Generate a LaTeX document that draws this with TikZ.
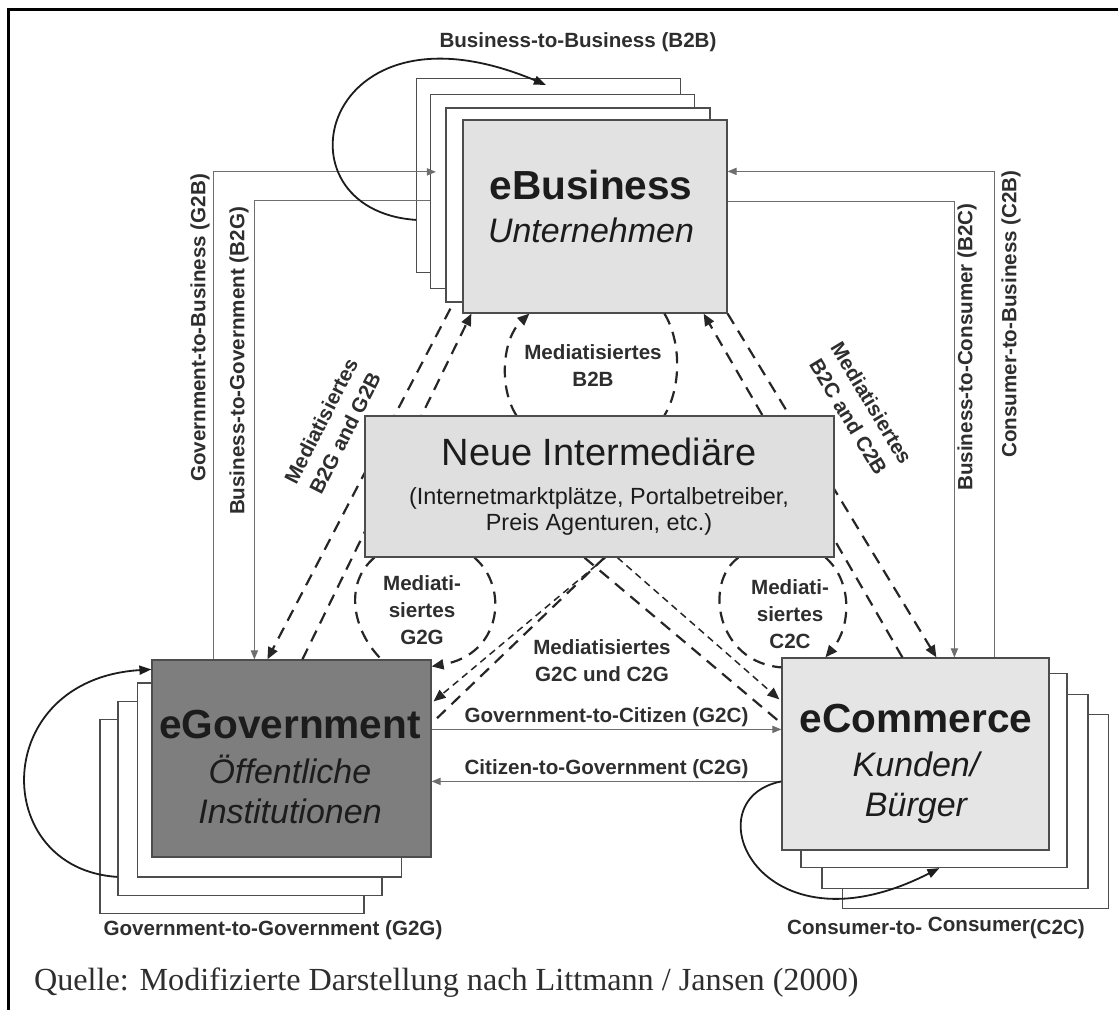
\documentclass[tikz,border=0pt]{standalone}
\usepackage{fontspec}
\setmainfont{Liberation Serif}
\setsansfont{Liberation Sans}
\usepackage{xcolor}
\definecolor{bizfill}{HTML}{E2E2E2}
\definecolor{comfill}{HTML}{E5E5E5}
\definecolor{neuefill}{HTML}{DFDFDF}
\definecolor{govfill}{HTML}{7E7E7E}
\definecolor{boxedge}{HTML}{4D4D4D}
\definecolor{flowgray}{HTML}{6E6E6E}
\definecolor{medgray}{HTML}{262626}
\definecolor{lbltext}{HTML}{2E2E2E}
\definecolor{ink}{HTML}{1C1C1C}
\usetikzlibrary{arrows.meta,calc}

\begin{document}
\begin{tikzpicture}[x=0.5pt,y=-0.5pt,
  sectorbox/.style={draw=boxedge, line width=0.6pt, inner sep=0pt},
  stackbox/.style={sectorbox, fill=white},
  boxtext/.style={align=center, inner sep=0pt, text=ink},
  lbl/.style={font=\sffamily\bfseries\fontsize{10.3}{13.5}\selectfont,
              text=lbltext, inner sep=1pt},
  vlbl/.style={lbl, rotate=90},
  medlbl/.style={lbl, align=center},
  relflow/.style={draw=flowgray, line width=0.55pt,
                  -{Triangle[length=4.5pt,width=3.6pt]}},
  medline/.style={draw=medgray, line width=1.1pt, dash pattern=on 6pt off 4pt},
  medfine/.style={draw=medgray, line width=0.75pt, dash pattern=on 3.5pt off 2.5pt},
  medtip/.style={-{Triangle[length=6pt,width=5pt]}},
  selfloop/.style={draw=ink, line width=0.9pt,
                   -{Triangle[length=6pt,width=4.5pt]}}
]
\useasboundingbox (0,0) rectangle (1118,1010);
\draw[line width=1.5pt] (8,1010) -- (8,10) -- (1118,10);

%% stacks
\coordinate (bizc) at (595,216.5);
\foreach \n/\dx/\dy in {3/-46.5/-41,2/-32.5/-25,1/-17/-11.5}
  \node[stackbox, minimum width=132pt, minimum height=97pt]
    (biz\n) at ([shift={(\dx,\dy)}]bizc) {};
\node[sectorbox, fill=bizfill, minimum width=132pt, minimum height=96.5pt]
  (biz) at (bizc) {};

\coordinate (govc) at (291.5,758.5);
\foreach \n/\dx/\dy in {3/-59.5/58,2/-41.5/40,1/-22/21.5}
  \node[stackbox, minimum width=132pt, minimum height=97pt]
    (gov\n) at ([shift={(\dx,\dy)}]govc) {};
\node[sectorbox, fill=govfill, minimum width=139.5pt, minimum height=98.5pt]
  (gov) at (govc) {};

\coordinate (comc) at (915.5,754);
\foreach \n/\dx/\dy in {3/60/57.5,2/39.5/37.5,1/18.5/16.5}
  \node[stackbox, minimum width=133pt, minimum height=97pt]
    (com\n) at ([shift={(\dx,\dy)}]comc) {};
\node[sectorbox, fill=comfill, minimum width=133.5pt, minimum height=96pt]
  (com) at (comc) {};

%% direct relations
\draw[relflow] ($(gov.north west)+(62,0)$) |- ($(biz2.north west)+(6,78)$);
\draw[relflow] ($(biz2.north west)+(0,107)$) -| ($(gov.north west)+(103,0)$);
\draw[relflow] ($(biz.north east)+(0,82)$) -| ($(com.north west)+(173,0)$);
\draw[relflow] ($(com.north west)+(213,0)$) |- ($(biz.north east)+(0,52)$);
\draw[relflow] ($(gov.north east)+(0,70)$)
  -- node[above,lbl] {Government-to-Citizen (G2C)} ($(com.north west)+(0,72)$);
\draw[relflow] ($(com.north west)+(0,124)$)
  -- node[above,lbl] {Citizen-to-Government (C2G)} ($(gov.north east)+(0,122)$);

%% mediated relations
\node[sectorbox, minimum width=234.5pt, minimum height=70.5pt] (neue) at (599.5,486.5) {};
\draw[medline, medtip] ($(biz.south west)+(-12,-5)$) -- ($(gov.north west)+(116,0)$);
\draw[medline, medtip] ($(gov.north west)+(151,0)$) -- ($(biz.south west)+(9,0)$);
\draw[medline, medtip] (biz.south east) -- ($(com.north west)+(155,0)$);
\draw[medline, medtip] ($(com.north west)+(121,0)$) -- ($(biz.south east)+(-24,0)$);
\draw[medline, medtip] ($(neue.north west)+(152,0)$)
  .. controls +(-18,-28) and +(-27,25) .. ($(biz.south west)+(67,0)$);
\draw[medline] ($(biz.south west)+(202,0)$)
  .. controls +(17,28) and +(17,-28) .. ($(neue.north west)+(300,0)$);
\draw[medline] ($(neue.south west)+(10,0)$)
  .. controls +(-30,25) and +(-30,-30) .. ($(gov.north west)+(230,0)$);
\draw[medline, medtip] ($(neue.south west)+(110,0)$)
  .. controls +(35,30) and +(70,-12) .. ($(gov.north east)+(0,7)$);
\draw[medline] ($(neue.south west)+(374,0)$)
  .. controls +(-35,25) and +(-65,-5) .. ($(com.north west)+(0,10)$);
\draw[medline, medtip] ($(neue.south east)+(-9,0)$)
  .. controls +(28,25) and +(25,-30) .. ($(com.north west)+(44,0)$);
\draw[medfine, medtip] ($(neue.south west)+(241,0)$) -- ($(gov.north east)+(2,42)$);
\draw[medline] ($(neue.south west)+(240,0)$) -- ($(gov.north east)+(0,64)$);
\draw[medfine, medtip] ($(neue.south west)+(253,0)$) -- ($(com.north west)+(-2,42)$);
\draw[medline] ($(neue.south west)+(220,0)$) -- ($(com.north west)+(0,66)$);
\node[sectorbox, fill=neuefill, minimum width=234.5pt, minimum height=70.5pt]
  (neuebox) at (neue) {};

%% texts
\node[boxtext, font=\sffamily\itshape\fontsize{17}{21.5}\selectfont] (biztxt) at (591,206)
  {{\bfseries\upshape\fontsize{20.3}{24}\selectfont eBusiness}\\Unternehmen};
\node[boxtext, font=\sffamily\itshape\fontsize{17}{20}\selectfont] (govtxt) at (290,767)
  {{\bfseries\upshape\fontsize{20.3}{24}\selectfont eGovernment}\\[2.5pt]Öffentliche\\Institutionen};
\node[boxtext, font=\sffamily\itshape\fontsize{17}{20}\selectfont] (comtxt) at (916,764)
  {{\bfseries\upshape\fontsize{20.3}{24}\selectfont eCommerce}\\[2pt]Kunden/\\Bürger};
\node[boxtext, font=\sffamily\fontsize{11.7}{13}\selectfont] (neuetxt) at (599,487)
  {{\fontsize{19}{22}\selectfont Neue Intermediäre}\\[6.5pt](Internetmarktplätze, Portalbetreiber,\\Preis Agenturen, etc.)};

\node[lbl] (b2b) at (578,42) {Business-to-Business (B2B)};
\node[lbl] (g2g) at (273,930) {Government-to-Government (G2G)};
\node[lbl] (c2c) at (936,928) {Consumer-to- \raisebox{1.2pt}{Consumer}(C2C)};
\node[vlbl] (g2b) at (200,328) {Government-to-Business (G2B)};
\node[vlbl] (b2g) at (239,361) {Business-to-Government (B2G)};
\node[vlbl] (b2c) at (967,347) {Business-to-Consumer (B2C)};
\node[vlbl] (c2b) at (1011,314) {Consumer-to-Business (C2B)};

\node[medlbl] (mb2b) at (593,366) {Mediatisiertes\\B2B};
\node[medlbl, rotate=63] (mbg) at (333,427) {Mediatisiertes\\B2G and G2B};
\node[medlbl, rotate=-59] (mbc) at (860,410) {Mediatisiertes\\B2C and C2B};
\node[medlbl] (mg2g) at (422,610) {Mediati-\\siertes\\G2G};
\node[medlbl] (mc2c) at (790,614) {Mediati-\\siertes\\C2C};
\node[medlbl] (mgc) at (602,661) {Mediatisiertes\\G2C und C2G};

%% self relations
\draw[selfloop] ($(biz3.north west)+(0,142)$)
  .. controls +(-146,-10) and +(-226,-95) .. ($(biz3.north west)+(130,7)$);
\draw[selfloop] ($(gov2.north west)+(0,176)$)
  .. controls +(-128,-8) and +(-162,10) .. ($(gov.north west)+(0,10)$);
\draw[selfloop] ($(com.north west)+(0,124)$)
  .. controls +(-92,18) and +(-180,92) .. ($(com1.south west)+(139,0)$);

\node[anchor=base west, font=\rmfamily\fontsize{16.1}{18}\selectfont, text=lbltext]
  (quelle) at (27,990) {Quelle: Modifizierte Darstellung nach Littmann / Jansen (2000)};
\end{tikzpicture}
\end{document}
